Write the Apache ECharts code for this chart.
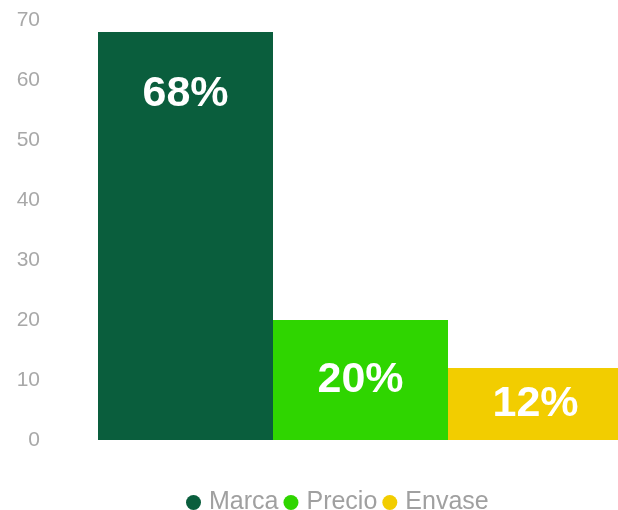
<!DOCTYPE html>
<html><head><meta charset="utf-8">
<script src="https://cdn.jsdelivr.net/npm/echarts@6/dist/echarts.min.js"></script>
<style>html,body{margin:0;padding:0;background:#fff}#c{width:618px;height:510px}</style>
</head><body><div id="c"></div>
<script>
const seriesNames = ['Marca', 'Precio', 'Envase'];
const seriesValues = [68, 20, 12];
const seriesLabels = ['68%', '20%', '12%'];
const seriesColors = ['#0a5e3d', '#2fd500', '#f2cd00'];
const yTicks = [0, 10, 20, 30, 40, 50, 60, 70];

const chart = echarts.init(document.getElementById('c'));
chart.setOption({
  animation: false,
  textStyle: { fontFamily: 'Liberation Sans, Arial, sans-serif' },
  grid: { left: 103, right: 0, top: 20, bottom: 70 },
  legend: {
    top: 485, left: 181,
    icon: 'circle', itemWidth: 15, itemHeight: 15, itemGap: 5,
    textStyle: { color: '#a0a0a0', fontSize: 25, padding: [0, 0, 0, 3] },
    data: seriesNames
  },
  xAxis: { type: 'category', data: [''], show: false },
  yAxis: {
    type: 'value', min: yTicks[0], max: yTicks[yTicks.length - 1], interval: 10,
    axisLine: { show: false }, axisTick: { show: false }, splitLine: { show: false },
    axisLabel: { color: '#a8a8a8', fontSize: 21, margin: 63 }
  },
  series: seriesNames.map((n, i) => ({
    name: n, type: 'bar', barGap: '0%', barWidth: 175, clip: false,
    data: [seriesValues[i]],
    itemStyle: { color: seriesColors[i] },
    label: {
      show: true,
      position: i === 0 ? 'insideTop' : 'inside',
      distance: i === 0 ? 41 : 5,
      formatter: () => seriesLabels[i],
      color: '#ffffff', fontWeight: 'bold', fontSize: 43
    }
  }))
});
</script></body></html>
